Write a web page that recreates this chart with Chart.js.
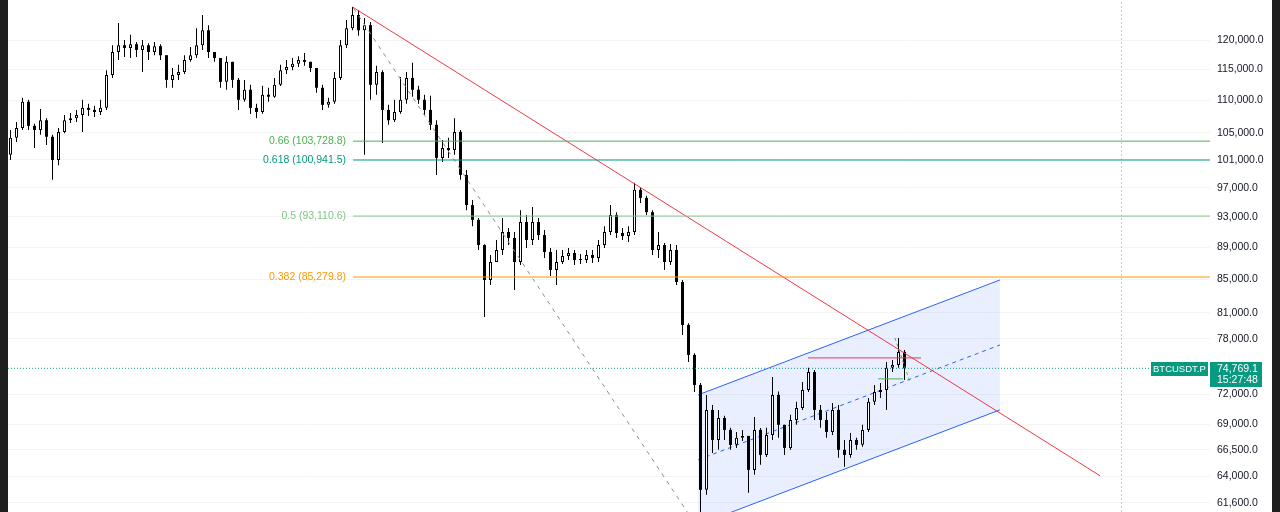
<!DOCTYPE html>
<html>
<head>
<meta charset="utf-8">
<script src="https://cdn.jsdelivr.net/npm/chart.js@4.4.1/dist/chart.umd.min.js"></script>
<style>
  html, body { margin: 0; padding: 0; background: #1f1f1f; overflow: hidden; }
  #wrap { position: absolute; left: 8px; top: 0; width: 1264px; height: 512px; background: #fff; }
</style>
</head>
<body>
<div id="wrap"><canvas id="chart"></canvas></div>
<script>
// candles (BTCUSDT.P), open of each candle = previous close
const firstOpen = 101700;
const closes = [
  104220, 105720, 109780, 106040, 105400, 106900, 104380, 100950, 105120, 106900,
  107220, 107700, 108820, 108500, 108180, 108820, 114100, 117940, 119100, 118620,
  119280, 118300, 119100, 117940, 118940, 117400, 113300, 114100, 114580, 116600,
  117400, 119100, 121700, 117940, 116920, 112980, 116280, 113300, 110100, 111700,
  108820, 108180, 110900, 110580, 112500, 114900, 115440, 115960, 116600, 116280,
  115260, 112020, 109300, 109780, 113620, 119100, 122060, 124400, 121700, 122600,
  112500, 114580, 108500, 106900, 108180, 110100, 113620, 111700, 110100, 108500,
  106200, 101250, 102700, 102400, 105120, 98800, 94600, 92600, 89300, 84920,
  87150, 88670, 91000, 90220, 87150, 92320, 89960, 92320, 90600, 88420,
  86160, 87150, 87910, 88290, 87400, 87400, 88040, 87660, 89300, 91000,
  93260, 90870, 90470, 91000, 96700, 95580, 93640, 88670, 89300, 87150,
  88670, 84680, 79590, 76230, 73000, 62760, 70420, 67440, 69610, 68420,
  66960, 67640, 67830, 64590, 68420, 66000, 67930, 71960, 68920, 66670,
  69410, 70620, 72480, 74380, 70420, 69410, 68220, 70420, 66480, 66000,
  67440, 66960, 68420, 71240, 72270, 72480, 74820, 75140, 76560, 74769.1
];
const highs = [
  105400, 106620, 110420, 110100, 106340, 108660, 107220, 104700, 105720, 107700,
  108020, 108500, 110100, 109460, 109140, 110100, 114900, 119100, 122960, 120000,
  120900, 119640, 120000, 119460, 119640, 119280, 117400, 115260, 115800, 117400,
  118780, 122060, 124400, 122600, 117940, 116920, 117240, 116280, 113620, 113300,
  112500, 109460, 112340, 112020, 113620, 115800, 116600, 116920, 117240, 117760,
  116280, 115260, 112500, 110420, 114580, 120000, 123500, 125850, 125300, 123860,
  123140, 115620, 114900, 109300, 110100, 113780, 114580, 116120, 112340, 110900,
  110740, 106900, 103900, 104220, 107220, 105400, 99500, 95300, 92860, 89400,
  88040, 89960, 92860, 91520, 91000, 93900, 93260, 94320, 92860, 91270,
  88920, 88670, 88670, 88920, 88670, 88170, 88670, 88670, 89960, 91770,
  94600, 93640, 91520, 91770, 97680, 96980, 95860, 93900, 91000, 89560,
  89430, 89300, 84920, 79800, 76400, 73210, 71960, 70930, 70420, 69820,
  68620, 68220, 68420, 67830, 69710, 68600, 68620, 73850, 72300, 68920,
  69920, 71240, 73320, 74820, 74600, 70930, 70220, 71130, 70930, 67440,
  68120, 67640, 68920, 71640, 73000, 73210, 75460, 75680, 78110, 76780
];
const lows = [
  100950, 103600, 105400, 105400, 102700, 104700, 103150, 98100, 100200, 104900,
  106480, 106620, 105120, 107540, 107380, 107700, 108500, 113620, 116600, 117080,
  116920, 117080, 114580, 116600, 117400, 116600, 112020, 112020, 113300, 114260,
  116280, 116920, 118300, 116920, 116280, 112020, 111700, 112020, 108500, 109780,
  107860, 107220, 107900, 109780, 110420, 112300, 114260, 114900, 115440, 115620,
  114580, 111220, 108500, 108820, 109460, 113300, 118620, 121700, 120720, 101700,
  110100, 110900, 103450, 106200, 106620, 107900, 109460, 110580, 109460, 107700,
  105400, 98800, 100650, 101250, 101700, 98100, 93900, 91770, 88670, 80520,
  84310, 87150, 88040, 89300, 83710, 86780, 88920, 89300, 89960, 87660,
  85420, 84310, 86900, 87400, 86780, 86900, 87030, 87030, 87150, 88920,
  90600, 90220, 89960, 89700, 90600, 94880, 93260, 88040, 87660, 86160,
  86780, 84310, 78450, 75460, 72270, 60530, 62310, 66190, 66480, 67440,
  66480, 66670, 67340, 62490, 64130, 65060, 65810, 67440, 67640, 66000,
  66500, 68920, 70420, 72270, 69410, 68620, 67640, 67930, 65720, 64870,
  65720, 66480, 66770, 68220, 70930, 71640, 70420, 74380, 74820, 73530
];
const opens = closes.map((c, i) => i ? closes[i - 1] : firstOpen);

// price scale
const yTicks = [120000, 115000, 110000, 105000, 101000, 97000, 93000, 89000, 85000,
  81000, 78000, 72000, 69000, 66500, 64000, 61600];
const yMin = 60786, yMax = 127121;

// fibonacci retracement
const fibRatios = ['0.66', '0.618', '0.5', '0.382'];
const fibLevels = [103728.8, 100941.5, 93110.6, 85279.8];
const fibColors = ['#4caf50', '#089981', '#81c784', '#ff9800'];

// drawings (x in candle index units)
const trendLine = [{x: 57, y: 125850}, {x: 181.6, y: 64040}];
const dashedLine = [{x: 57.2, y: 125600}, {x: 114.9, y: 59144}];
const channelUpper = [{x: 114.6, y: 71960}, {x: 164.9, y: 84920}];
const channelLower = [{x: 114.6, y: 59670}, {x: 164.9, y: 70420}];
const channelMid = [{x: 114.6, y: 65530}, {x: 164.9, y: 77330}];
const redLevel = [{x: 132.9, y: 75900}, {x: 151.75, y: 75900}];
const greenLevel = [{x: 144.6, y: 73640}, {x: 148.75, y: 73640}];
const greenDiag = [{x: 147.4, y: 78110}, {x: 149.9, y: 73320}];
const sessionX = 185.1667;
const lastPrice = 74769.1;
const lastTime = '15:27:48';
const symbol = 'BTCUSDT.P';

const fmt = v => Number(v).toLocaleString('en-US', {minimumFractionDigits: 1, maximumFractionDigits: 1});
const isUp = i => closes[i] >= opens[i];

function line(data, color, extra) {
    return Object.assign({
        type: 'line', data: data, borderColor: color, borderWidth: 1,
        pointRadius: 0, fill: false, tension: 0, order: 1
    }, extra || {});
}

const fibSets = fibLevels.map((lv, k) => line([{x: 57.1, y: lv}, {x: 199.92, y: lv}], fibColors[k]));

const labelsPlugin = {
    id: 'labels',
    afterDraw(chart) {
        const ctx = chart.ctx;
        const y = chart.scales.y;
        ctx.save();
        ctx.font = '10.5px "Liberation Sans", Arial, sans-serif';
        ctx.textBaseline = 'middle';
        ctx.textAlign = 'right';
        fibLevels.forEach((lv, k) => {
            ctx.fillStyle = fibColors[k];
            ctx.fillText(fibRatios[k] + ' (' + fmt(lv) + ')', 338, Math.round(y.getPixelForValue(lv)) + 0.5);
        });
        const py = Math.round(y.getPixelForValue(lastPrice));
        ctx.fillStyle = '#089981';
        ctx.fillRect(1143, py - 6, 57, 14);
        ctx.fillRect(1202, py - 6, 52, 25);
        ctx.fillStyle = '#ffffff';
        ctx.textAlign = 'left';
        ctx.fillText(fmt(lastPrice), 1209, py + 1);
        ctx.fillText(lastTime, 1209, py + 12);
        ctx.font = '9.5px "Liberation Sans", Arial, sans-serif';
        ctx.fillText(symbol, 1145, py + 1);
        ctx.restore();
    }
};

new Chart(document.getElementById('chart'), {
    type: 'bar',
    data: {
        datasets: [
            line(channelUpper, '#2962ff', {fill: '+1', backgroundColor: 'rgba(41,98,255,0.1)', order: 10}),
            line(channelLower, '#2962ff', {order: 10}),
            line(channelMid, '#2962ff', {borderDash: [4, 4], order: 9}),
            {
                type: 'bar',
                data: lows.map((l, i) => ({x: i, y: [l, highs[i]]})),
                backgroundColor: '#000',
                barThickness: 1,
                inflateAmount: 0,
                grouped: false,
                order: 6
            },
            {
                type: 'bar',
                data: opens.map((o, i) => ({x: i, y: [o, closes[i]]})),
                backgroundColor: ctx => isUp(ctx.dataIndex) ? '#ffffff' : '#000000',
                borderColor: '#000',
                borderWidth: ctx => isUp(ctx.dataIndex) ? 1 : 0,
                borderSkipped: false,
                barThickness: 3,
                minBarLength: 1,
                inflateAmount: 0,
                grouped: false,
                order: 5
            },
            line(dashedLine, '#8a8d96', {borderDash: [4, 5], order: 3}),
            ...fibSets,
            line(trendLine, '#f23645'),
            line(redLevel, '#f23645'),
            line(greenLevel, '#4caf50'),
            line(greenDiag, '#4caf50', {borderDash: [3, 3]}),
            line([{x: -0.42, y: lastPrice}, {x: 189.9, y: lastPrice}], '#089981', {borderDash: [1, 2], order: 2}),
            line([{x: sessionX, y: yMin}, {x: sessionX, y: yMax}], '#f5d53f', {borderDash: [2, 2], order: 2})
        ]
    },
    options: {
        responsive: true,
        maintainAspectRatio: false,
        animation: false,
        events: [],
        layout: {padding: 0},
        plugins: {legend: {display: false}, tooltip: {enabled: false}},
        scales: {
            x: {
                type: 'linear',
                offset: false,
                min: -0.4167,
                max: 199.9167,
                display: false
            },
            y: {
                type: 'logarithmic',
                position: 'right',
                min: yMin,
                max: yMax,
                afterBuildTicks: s => { s.ticks = yTicks.map(v => ({value: v})); },
                afterFit: s => { s.width = 62; s.paddingTop = 0; s.paddingBottom = 0; },
                ticks: {
                    autoSkip: false,
                    padding: 7,
                    color: '#131722',
                    font: {family: '"Liberation Sans", Arial, sans-serif', size: 10.5},
                    callback: v => fmt(v)
                },
                grid: {color: '#f4f4f4', drawTicks: false},
                border: {display: false}
            }
        }
    },
    plugins: [labelsPlugin]
});
</script>
</body>
</html>
